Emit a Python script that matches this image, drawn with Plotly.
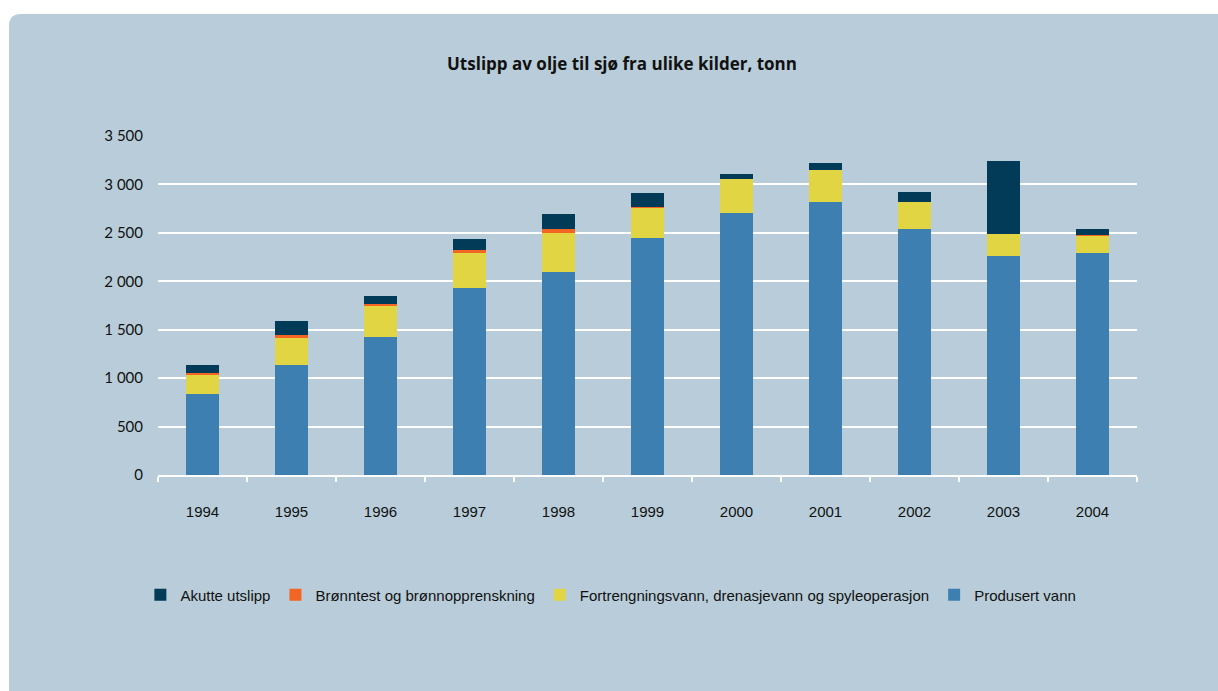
import plotly.graph_objects as go

years = ["1994", "1995", "1996", "1997", "1998", "1999", "2000", "2001", "2002", "2003", "2004"]
produsert = [836, 1135, 1420, 1932, 2097, 2448, 2706, 2823, 2545, 2266, 2287]
fortrengning = [196, 282, 327, 355, 406, 313, 354, 330, 275, 223, 185]
bronntest = [22, 27, 20, 31, 35, 4, 0, 0, 0, 0, 4]
akutte = [80, 141, 80, 116, 154, 147, 52, 73, 106, 753, 65]

series_names = ["Produsert vann",
                "Fortrengningsvann, drenasjevann og spyleoperasjon",
                "Brønntest og brønnopprenskning",
                "Akutte utslipp"]
series_values = [produsert, fortrengning, bronntest, akutte]
series_colors = ["#3d7fb1", "#e2d543", "#f26522", "#023b58"]

W, H = 1218, 691
L, R, T, B = 158, 81, 136, 216
PW, PH = W - L - R, H - T - B
BG = "#b8cdd9"

fig = go.Figure()
for name, vals, col in zip(series_names, series_values, series_colors):
    fig.add_trace(go.Bar(x=years, y=vals, name=name, marker=dict(color=col, line=dict(width=0))))

def px(x):
    return (x - L) / PW

def py(y):
    return (H - B - y) / PH

r = 12
x0, y0 = 9, 14
x1, y1 = W + 5, H + 5
path = (f"M {px(x0)},{py(y1)} L {px(x0)},{py(y0 + r)} "
        f"Q {px(x0)},{py(y0)} {px(x0 + r)},{py(y0)} "
        f"L {px(x1)},{py(y0)} L {px(x1)},{py(y1)} Z")

fig.update_layout(
    width=W, height=H,
    barmode="stack", bargap=0.64,
    paper_bgcolor="white", plot_bgcolor=BG,
    margin=dict(l=L, r=R, t=T, b=B, pad=0),
    separators=", ",
    shapes=[dict(type="path", path=path, xref="paper", yref="paper",
                 fillcolor=BG, line=dict(width=0), layer="below")],
    title=dict(text="<b>Utslipp av olje til sjø fra ulike kilder, tonn</b>",
               x=(622 - L) / PW, xref="paper", xanchor="center",
               y=1 - 64 / H, yanchor="middle",
               font=dict(family="Open Sans", size=17, color="#111111")),
    xaxis=dict(showgrid=False, showline=True, linecolor="white", linewidth=2,
               ticks="outside", tickson="boundaries", ticklen=5, tickcolor="white", tickwidth=2,
               tickfont=dict(family="Liberation Sans", size=15, color="#111111"),
               ticklabelstandoff=22),
    yaxis=dict(range=[0, 3500], tickvals=[0, 500, 1000, 1500, 2000, 2500, 3000, 3500],
               tickformat=",d", showgrid=True, gridcolor="white", gridwidth=2,
               zeroline=False, showline=False,
               tickfont=dict(family="Lato", size=15, color="#111111"),
               ticklabelstandoff=14),
    legend=dict(orientation="h", traceorder="reversed", x=-0.018, xanchor="left",
                y=(H - B - 595) / PH, yanchor="middle",
                bgcolor="rgba(0,0,0,0)",
                font=dict(family="Liberation Sans", size=15, color="#111111"),
                itemwidth=30),
    showlegend=True,
)

fig.write_html("out.html")
